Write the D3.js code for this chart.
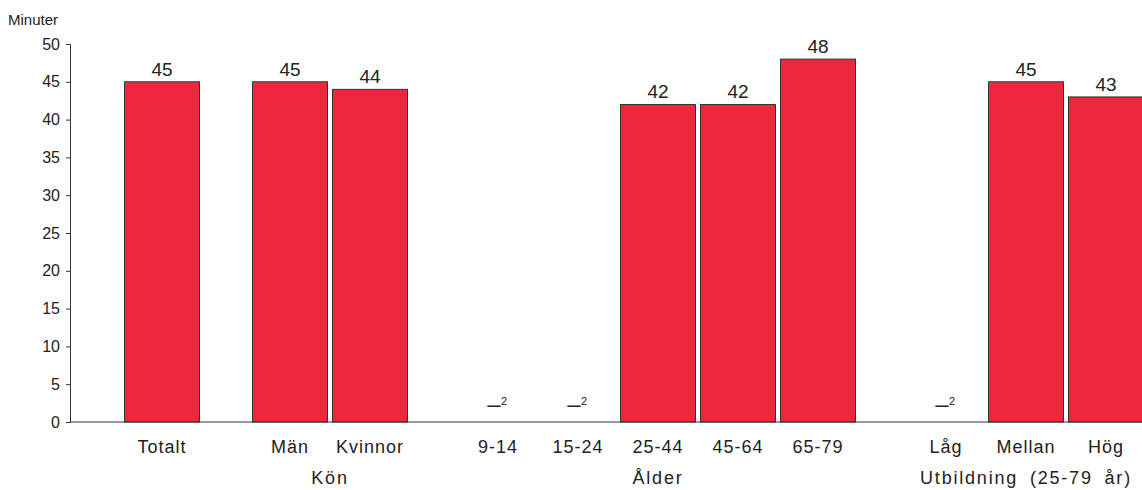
<!DOCTYPE html>
<html><head><meta charset="utf-8">
<script src="https://cdn.jsdelivr.net/npm/d3@7"></script>
<style>
html,body{margin:0;padding:0;background:#fff;}
text{font-family:"Liberation Sans",Arial,Helvetica,sans-serif;fill:#222;}
</style></head>
<body>
<svg id="c" width="1142" height="490"></svg>
<script>
const categories = ["Totalt","Män","Kvinnor","9-14","15-24","25-44","45-64","65-79","Låg","Mellan","Hög"];
const values = [45,45,44,null,null,42,42,48,null,45,43];
const groupIndex = [0,1,1,2,2,2,2,2,3,3,3];
const groupLabels = ["","Kön","Ålder","Utbildning (25-79 år)"];
const yTicks = [0,5,10,15,20,25,30,35,40,45,50];
const yTitle = "Minuter";
const missingMark = "–";
const missingNote = "2";

const svg = d3.select("#c");
const W = 1142;
const gap = 0.6;
const pos = categories.map((c,i)=> i + gap*groupIndex[i]);
const x = d3.scaleLinear().domain([0, 12.8]).range([122, 1146]);
const slot = x(1)-x(0);
const barW = slot - 5;
const y = d3.scaleLinear().domain([0,50]).range([422,44]);
const cx = i => x(pos[i]) + slot/2;

// y axis
const yAxis = d3.axisLeft(y).tickValues(yTicks).tickSize(4).tickPadding(6).tickSizeOuter(4);
const ga = svg.append("g").attr("transform","translate(70,0)").call(yAxis);
ga.select(".domain").attr("stroke","#333");
ga.selectAll(".tick line").attr("stroke","#333");
ga.selectAll(".tick text").attr("font-size",16).attr("font-family","Liberation Sans, Arial, sans-serif").attr("fill","#222");

svg.append("text").attr("x",8).attr("y",25).attr("font-size",15).text(yTitle);

// bars
const data = categories.map((c,i)=>({c, v: values[i], i}));
svg.selectAll("rect.bar").data(data.filter(d=>d.v!=null)).join("rect")
  .attr("class","bar")
  .attr("x", d=> x(pos[d.i]) + 2.5)
  .attr("width", barW)
  .attr("y", d=> y(d.v))
  .attr("height", d=> y(0)-y(d.v))
  .attr("fill","#ED283C")
  .attr("stroke","#333")
  .attr("stroke-width",1);

// value labels
svg.selectAll("text.val").data(data.filter(d=>d.v!=null)).join("text")
  .attr("class","val")
  .attr("x", d=> cx(d.i))
  .attr("y", d=> y(d.v)-6)
  .attr("text-anchor","middle")
  .attr("font-size",19)
  .text(d=> d.v);

// missing markers
const miss = svg.selectAll("g.miss").data(data.filter(d=>d.v==null)).join("g").attr("class","miss")
  .attr("transform", d=>`translate(${cx(d.i)},${y(0)-14})`);
miss.append("text").attr("x",-4).attr("y",4).attr("text-anchor","middle").attr("font-size",24).text(missingMark);
miss.append("text").attr("x",6).attr("y",-3).attr("text-anchor","middle").attr("font-size",11).text(missingNote);

// baseline
svg.append("line").attr("x1",70).attr("x2",W).attr("y1",y(0)).attr("y2",y(0)).attr("stroke","#333").attr("stroke-width",1.2);

// category labels
svg.selectAll("text.cat").data(data).join("text")
  .attr("class","cat")
  .attr("x", d=> cx(d.i))
  .attr("y", 453)
  .attr("text-anchor","middle")
  .attr("font-size",18)
  .attr("letter-spacing",1)
  .text(d=> d.c);

// group labels
const groups = d3.groups(data.filter(d=>groupIndex[d.i]>0), d=>groupIndex[d.i]);
svg.selectAll("text.grp").data(groups).join("text")
  .attr("class","grp")
  .attr("x", g=> (cx(g[1][0].i)+cx(g[1][g[1].length-1].i))/2)
  .attr("y", 484)
  .attr("text-anchor","middle")
  .attr("font-size",18)
  .attr("letter-spacing",1.8)
  .attr("word-spacing",5)
  .text(g=> groupLabels[g[0]]);
</script>
</body></html>
